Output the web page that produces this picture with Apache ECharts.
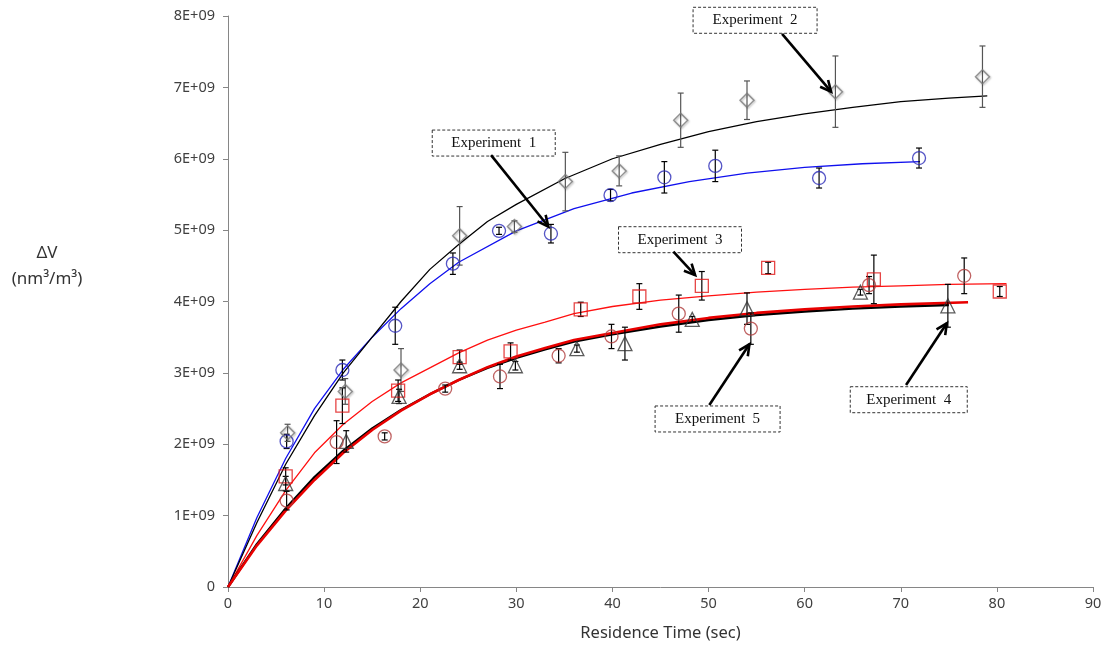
<!DOCTYPE html>
<html><head><meta charset="utf-8">
<script src="https://cdn.jsdelivr.net/npm/echarts@6/dist/echarts.min.js"></script>
<style>html,body{margin:0;padding:0;background:#fff}#c{width:1111px;height:654px}</style>
</head><body><div id="c"></div>
<script>
// ---- data (y values in units of 1E+09 nm3/m3) ----
const exp1X = [6.1, 11.9, 17.4, 23.4, 28.2, 33.6, 39.8, 45.4, 50.7, 61.5, 71.9];
const exp1Y = [2.04, 3.04, 3.66, 4.53, 4.99, 4.95, 5.49, 5.74, 5.90, 5.73, 6.01];
const exp1Err = [0.10, 0.14, 0.26, 0.15, 0.05, 0.13, 0.08, 0.22, 0.22, 0.14, 0.14];

const exp2X = [6.2, 12.2, 18.0, 24.1, 29.8, 35.1, 40.7, 47.1, 54.0, 63.2, 78.5];
const exp2Y = [2.16, 2.74, 3.04, 4.92, 5.05, 5.68, 5.83, 6.54, 6.82, 6.94, 7.15];
const exp2Err = [0.12, 0.18, 0.30, 0.41, 0.08, 0.41, 0.21, 0.38, 0.27, 0.50, 0.43];

const exp3X = [6.0, 11.9, 17.7, 24.1, 29.4, 36.7, 42.8, 49.3, 56.2, 67.2, 80.3];
const exp3Y = [1.55, 2.54, 2.75, 3.22, 3.30, 3.89, 4.07, 4.22, 4.47, 4.31, 4.14];
const exp3Err = [0.12, 0.25, 0.15, 0.10, 0.12, 0.10, 0.18, 0.20, 0.08, 0.34, 0.07];

const exp4X = [6.0, 12.3, 17.8, 24.1, 29.9, 36.3, 41.3, 48.3, 54.0, 65.8, 74.9];
const exp4Y = [1.45, 2.04, 2.67, 3.10, 3.10, 3.34, 3.41, 3.75, 3.90, 4.13, 3.94];
const exp4Err = [0.10, 0.15, 0.10, 0.05, 0.06, 0.05, 0.23, 0.04, 0.22, 0.04, 0.30];

const exp5X = [6.1, 11.3, 16.3, 22.6, 28.3, 34.4, 39.9, 46.9, 54.4, 66.7, 76.6];
const exp5Y = [1.21, 2.03, 2.11, 2.78, 2.95, 3.24, 3.51, 3.83, 3.62, 4.23, 4.36];
const exp5Err = [0.13, 0.30, 0.05, 0.05, 0.17, 0.10, 0.17, 0.26, 0.22, 0.12, 0.25];

// model curves
const fit1X = [0, 3, 6, 9, 12, 15, 18, 21, 24, 30, 36, 42, 48, 54, 60, 66, 72];
const fit1Y = [0, 0.97, 1.80, 2.50, 3.05, 3.50, 3.90, 4.25, 4.55, 4.99, 5.30, 5.52, 5.68, 5.80, 5.88, 5.93, 5.96];
const fit2X = [0, 3, 6, 9, 12, 15, 18, 21, 24, 27, 30, 35, 40, 45, 50, 55, 60, 65, 70, 75, 79];
const fit2Y = [0, 0.90, 1.72, 2.40, 3.00, 3.50, 4.00, 4.45, 4.80, 5.12, 5.36, 5.72, 6.00, 6.20, 6.38, 6.52, 6.63, 6.72, 6.80, 6.85, 6.88];
const fit3X = [0, 3, 6, 9, 12, 15, 18, 21, 24, 27, 30, 33, 36, 40, 45, 50, 55, 60, 65, 70, 75, 81];
const fit3Y = [0, 0.72, 1.35, 1.88, 2.28, 2.60, 2.86, 3.07, 3.28, 3.46, 3.60, 3.71, 3.83, 3.93, 4.02, 4.08, 4.13, 4.17, 4.20, 4.22, 4.24, 4.25];
const fit4X = [0, 3, 6, 9, 12, 15, 18, 21, 24, 27, 30, 33, 36, 40, 45, 50, 55, 60, 65, 70, 75];
const fit4Y = [0, 0.60, 1.10, 1.54, 1.91, 2.22, 2.48, 2.70, 2.90, 3.07, 3.21, 3.33, 3.44, 3.54, 3.65, 3.74, 3.81, 3.86, 3.90, 3.93, 3.95];
const fit5X = [0, 3, 6, 9, 12, 15, 18, 21, 24, 27, 30, 33, 36, 40, 45, 50, 55, 60, 65, 70, 77];
const fit5Y = [0, 0.58, 1.07, 1.50, 1.88, 2.20, 2.47, 2.70, 2.90, 3.08, 3.23, 3.35, 3.46, 3.56, 3.68, 3.77, 3.84, 3.89, 3.93, 3.96, 3.99];

const xTickValues = [0, 10, 20, 30, 40, 50, 60, 70, 80, 90];
const yTickLabels = ['0', '1E+09', '2E+09', '3E+09', '4E+09', '5E+09', '6E+09', '7E+09', '8E+09'];
const yTitle = 'ΔV\n(nm³/m³)';
const xTitle = 'Residence Time (sec)';

const annLabels = ['Experiment  1', 'Experiment  2', 'Experiment  3', 'Experiment  4', 'Experiment  5'];
// ---- layout for annotations (data coordinates) ----
const annBox = [[27.65, 6.22], [54.84, 7.94], [47.03, 4.866], [70.83, 2.624], [50.94, 2.354]];
const annBoxW = [123, 124, 123, 117, 125];
const annArrow = [
  [[27.37, 6.05], [33.33, 5.05]],
  [[57.65, 7.75], [62.75, 6.94]],
  [[46.34, 4.70], [48.6, 4.37]],
  [[70.55, 2.83], [74.79, 3.695]],
  [[50.08, 2.55], [54.25, 3.40]]
];

const zip = (a, b) => a.map((v, i) => [v, b[i]]);
const zip3 = (a, b, c) => a.map((v, i) => [v, b[i], c[i]]);

function errRender(color) {
  return function (params, api) {
    const x = api.value(0), y = api.value(1), e = api.value(2);
    const t = api.coord([x, y + e]), b = api.coord([x, y - e]);
    const st = { stroke: color, lineWidth: 1.2 };
    return { type: 'group', children: [
      { type: 'line', shape: { x1: t[0], y1: t[1], x2: b[0], y2: b[1] }, style: st },
      { type: 'line', shape: { x1: t[0] - 3, y1: t[1], x2: t[0] + 3, y2: t[1] }, style: st },
      { type: 'line', shape: { x1: b[0] - 3, y1: b[1], x2: b[0] + 3, y2: b[1] }, style: st }
    ] };
  };
}
function errSeries(xs, ys, es, color) {
  return { type: 'custom', data: zip3(xs, ys, es), renderItem: errRender(color), z: 3, silent: true };
}
function lineSeries(xs, ys, color, w, z) {
  return { type: 'line', data: zip(xs, ys), symbol: 'none', smooth: false, lineStyle: { color: color, width: w }, z: z, silent: true };
}
function markSeries(xs, ys, sym, size, color, extra) {
  return Object.assign({ type: 'scatter', data: zip(xs, ys), symbol: sym, symbolSize: size,
    itemStyle: { color: 'rgba(255,255,255,0)', borderColor: color, borderWidth: 1.3 }, z: 4, silent: true }, extra || {});
}

const chart = echarts.init(document.getElementById('c'), null, { renderer: 'canvas' });
const labelFont = { color: '#404040', fontSize: 14.5, fontFamily: 'Noto Sans' };
chart.setOption({
  animation: false,
  backgroundColor: '#fff',
  grid: { left: 228, right: 18, top: 16, bottom: 67 },
  xAxis: {
    type: 'value', min: 0, max: 90, interval: 10,
    axisLine: { lineStyle: { color: '#868686', width: 1 } },
    axisTick: { show: true, length: 5, lineStyle: { color: '#868686' } },
    splitLine: { show: false },
    axisLabel: Object.assign({ margin: 9, formatter: v => String(xTickValues[Math.round(v / 10)]) }, labelFont),
    name: xTitle, nameLocation: 'middle', nameGap: 38,
    nameTextStyle: { color: '#333', fontSize: 16.5, fontFamily: 'Noto Sans' }
  },
  yAxis: {
    type: 'value', min: 0, max: 8, interval: 1,
    axisLine: { show: true, lineStyle: { color: '#868686', width: 1 } },
    axisTick: { show: true, length: 5, lineStyle: { color: '#868686' } },
    splitLine: { show: false },
    axisLabel: Object.assign({ margin: 13, formatter: v => yTickLabels[Math.round(v)] }, labelFont)
  },
  series: [
    lineSeries(fit1X, fit1Y, '#1010ee', 1.3, 2),
    lineSeries(fit2X, fit2Y, '#000000', 1.3, 2),
    lineSeries(fit3X, fit3Y, '#ff1010', 1.3, 2),
    lineSeries(fit4X, fit4Y, '#000000', 2.4, 2),
    lineSeries(fit5X, fit5Y, '#e80000', 2.6, 2),
    errSeries(exp1X, exp1Y, exp1Err, '#000'),
    errSeries(exp2X, exp2Y, exp2Err, '#555'),
    errSeries(exp3X, exp3Y, exp3Err, '#000'),
    errSeries(exp4X, exp4Y, exp4Err, '#000'),
    errSeries(exp5X, exp5Y, exp5Err, '#000'),
    markSeries(exp1X, exp1Y, 'circle', 13, '#2a2ab8'),
    markSeries(exp2X, exp2Y, 'diamond', 14, '#7a7a7a', { itemStyle: { color: 'rgba(255,255,255,0)', borderColor: '#7a7a7a', borderWidth: 1.4, shadowBlur: 2, shadowColor: 'rgba(0,0,0,0.35)', shadowOffsetX: 1, shadowOffsetY: 1 } }),
    markSeries(exp3X, exp3Y, 'rect', 13, '#e01818'),
    markSeries(exp4X, exp4Y, 'triangle', 14, '#333'),
    markSeries(exp5X, exp5Y, 'circle', 13, '#b03c3c')
  ]
});

// annotations: boxes + arrows placed via data coordinates
const gfx = [];
const yt = chart.convertToPixel({ gridIndex: 0 }, [0, 4.5]);
gfx.push({ type: 'text', x: 47, y: yt[1], style: { text: yTitle, fill: '#333', font: '17px "Noto Sans"', textAlign: 'center', textVerticalAlign: 'middle', lineHeight: 26 } });
annLabels.forEach((txt, i) => {
  const c = chart.convertToPixel({ gridIndex: 0 }, annBox[i]);
  const w = annBoxW[i], h = 26;
  gfx.push({ type: 'rect', shape: { x: c[0] - w / 2, y: c[1] - h / 2, width: w, height: h },
    style: { fill: '#fff', stroke: '#333', lineWidth: 1, lineDash: [3, 2] }, z: 10 });
  gfx.push({ type: 'text', x: c[0], y: c[1], style: { text: txt, fill: '#111', font: '15px "Liberation Serif"', textAlign: 'center', textVerticalAlign: 'middle' }, z: 11 });
  const p0 = chart.convertToPixel({ gridIndex: 0 }, annArrow[i][0]);
  const p1 = chart.convertToPixel({ gridIndex: 0 }, annArrow[i][1]);
  const ang = Math.atan2(p1[1] - p0[1], p1[0] - p0[0]);
  const L = 12, a = 0.45;
  const h1 = [p1[0] - L * Math.cos(ang - a), p1[1] - L * Math.sin(ang - a)];
  const h2 = [p1[0] - L * Math.cos(ang + a), p1[1] - L * Math.sin(ang + a)];
  gfx.push({ type: 'line', shape: { x1: p0[0], y1: p0[1], x2: p1[0], y2: p1[1] }, style: { stroke: '#000', lineWidth: 2.6 }, z: 12 });
  gfx.push({ type: 'polyline', shape: { points: [h1, p1, h2] }, style: { stroke: '#000', lineWidth: 2.6, fill: null, lineJoin: 'miter' }, z: 12 });
});
chart.setOption({ graphic: gfx });
</script>
</body></html>
